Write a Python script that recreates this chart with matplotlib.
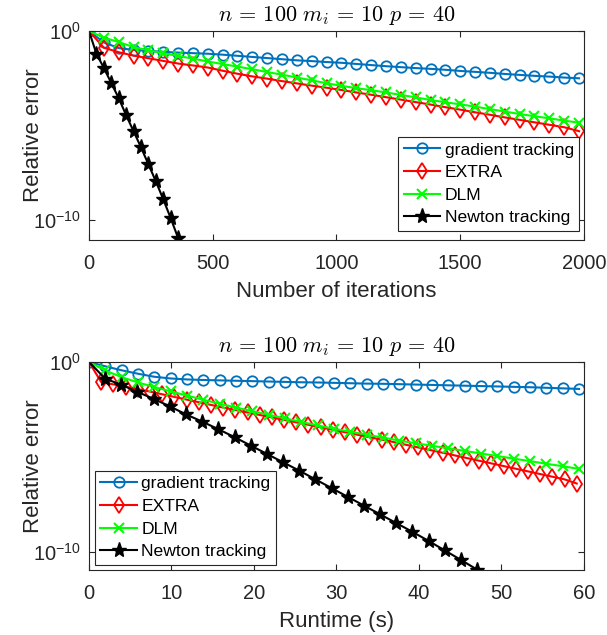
import numpy as np
import matplotlib
matplotlib.use("Agg")

import matplotlib.pyplot as plt
from matplotlib.ticker import NullLocator


# =====================================================
# DATA  (log10 of relative error)
# =====================================================

# top panel: markers every 60 iterations (Newton every 30)
iters_gt = np.arange(0, 1981, 60)
iters_extra = np.arange(0, 1981, 60)
iters_dlm = np.arange(0, 1981, 60)
iters_newton = np.arange(0, 361, 30)

err_gt_iter = [
    0, -0.6, -0.9, -1.0, -1.05, -1.1, -1.14, -1.17, -1.2,
    -1.25, -1.31, -1.37, -1.43, -1.49, -1.55, -1.59, -1.64, -1.68,
    -1.74, -1.8, -1.86, -1.91, -1.96, -2.0, -2.05, -2.11, -2.16,
    -2.21, -2.27, -2.32, -2.37, -2.41, -2.46, -2.5
]

err_extra_iter = [
    0, -0.88, -1.12, -1.3, -1.44, -1.58, -1.72, -1.82, -1.93,
    -2.1, -2.26, -2.4, -2.52, -2.65, -2.77, -2.89, -3.0, -3.12,
    -3.25, -3.37, -3.5, -3.63, -3.76, -3.89, -4.03, -4.16, -4.3,
    -4.43, -4.57, -4.7, -4.83, -4.96, -5.09, -5.3
]

err_dlm_iter = [
    0, -0.35, -0.58, -0.85, -1.02, -1.17, -1.32, -1.46, -1.61,
    -1.75, -1.88, -2.02, -2.17, -2.31, -2.46, -2.61, -2.76, -2.9,
    -3.02, -3.13, -3.25, -3.38, -3.51, -3.65, -3.77, -3.88, -4.0,
    -4.13, -4.26, -4.39, -4.51, -4.62, -4.74, -4.85
]

err_newton_iter = [
    0, -1.2, -1.95, -2.75, -3.55, -4.45, -5.3, -6.15, -7.05,
    -7.95, -8.9, -9.9, -10.95
]

# bottom panel: runtime in seconds at the marker positions
time_gt = np.arange(31) * 1.98
time_extra = np.arange(41) * 1.478
time_dlm = np.arange(31) * 1.98
time_newton = np.arange(25) * 1.96

err_gt_time = [
    0, -0.23, -0.44, -0.62, -0.78, -0.87, -0.92, -0.95, -0.97, -0.99,
    -1.01, -1.03, -1.05, -1.07, -1.08, -1.1, -1.12, -1.14, -1.15, -1.17,
    -1.19, -1.21, -1.23, -1.25, -1.27, -1.29, -1.31, -1.33, -1.36, -1.39,
    -1.42
]

err_extra_time = [
    0, -1.06, -1.18, -1.3, -1.43, -1.56, -1.7, -1.84, -1.98, -2.12,
    -2.26, -2.4, -2.53, -2.66, -2.79, -2.92, -3.05, -3.18, -3.31, -3.44,
    -3.57, -3.7, -3.83, -3.96, -4.09, -4.22, -4.36, -4.5, -4.64, -4.78,
    -4.92, -5.06, -5.2, -5.34, -5.48, -5.62, -5.76, -5.9, -6.04, -6.18,
    -6.4
]

err_dlm_time = [
    0, -0.45, -0.8, -1.08, -1.32, -1.55, -1.77, -1.99, -2.2, -2.4,
    -2.59, -2.78, -2.97, -3.16, -3.34, -3.52, -3.67, -3.83, -3.98, -4.14,
    -4.28, -4.41, -4.55, -4.68, -4.82, -4.95, -5.09, -5.22, -5.36, -5.49,
    -5.63
]

err_newton_time = [
    0, -0.88, -1.2, -1.58, -1.94, -2.34, -2.76, -3.14, -3.54, -3.96,
    -4.4, -4.84, -5.28, -5.72, -6.18, -6.64, -7.1, -7.56, -8.02, -8.48,
    -8.94, -9.42, -9.92, -10.42, -10.93
]

labels = ["gradient tracking", "EXTRA", "DLM", "Newton tracking"]

title_text = r"$n\,=\,100\ m_i\,=\,10\ p\,=\,40$"


# =====================================================
# STYLE
# =====================================================

plt.rcParams["font.family"] = ["Liberation Sans", "DejaVu Sans"]
plt.rcParams["mathtext.fontset"] = "custom"
plt.rcParams["mathtext.rm"] = "Liberation Sans"
plt.rcParams["mathtext.it"] = "Liberation Sans:italic"

AX_COLOR = "#262626"

styles = [
    dict(color="#0072BD", marker="o", mfc="none", ms=7.5, mew=1.3),
    dict(color="#FF0000", marker="d", mfc="none", ms=8.5, mew=1.3),
    dict(color="#00FF00", marker="x", ms=7.5, mew=1.5),
    dict(color="black", marker="*", ms=11, mew=1.0),
]


def draw_panel(ax, xs, ys, xlim, ylow, xticks, xlabel, legend_loc, anchor):

    for i, (x, y) in enumerate(zip(xs, ys)):
        ax.plot(
            x,
            10.0 ** np.asarray(y),
            lw=1.5,
            markevery=slice(0 if i == 0 else 1, None),
            label=labels[i],
            **styles[i]
        )

    ax.set_yscale("log")
    ax.set_xlim(*xlim)
    ax.set_ylim(10.0 ** ylow, 1.0)

    ax.set_xticks(xticks)
    ax.set_xticklabels([str(t) for t in xticks])
    ax.set_yticks([1e-10, 1.0])
    ax.set_yticklabels([r"$\mathregular{10^{-10}}$", r"$\mathregular{10^{0}}$"])
    ax.yaxis.set_minor_locator(NullLocator())

    ax.tick_params(
        direction="in",
        top=True,
        right=True,
        length=4,
        width=0.8,
        labelsize=14.5,
        colors=AX_COLOR
    )
    ax.tick_params(axis="x", pad=10)
    ax.tick_params(axis="y", pad=6)
    for sp in ax.spines.values():
        sp.set_color(AX_COLOR)
        sp.set_linewidth(0.8)

    ax.set_xlabel(xlabel, fontsize=16, color=AX_COLOR)
    ax.set_ylabel("Relative error", fontsize=16, color=AX_COLOR)
    ax.xaxis.set_label_coords(0.5, -0.195)
    ax.yaxis.set_label_coords(-0.09, 0.5)
    ax.set_title(title_text, fontsize=16, math_fontfamily="cm", pad=7)

    leg = ax.legend(
        loc=legend_loc,
        bbox_to_anchor=anchor,
        borderaxespad=0,
        fontsize=12.6,
        fancybox=False,
        framealpha=1,
        edgecolor=AX_COLOR,
        handlelength=2.1,
        handletextpad=0.25,
        labelspacing=0.42,
        borderpad=0.3
    )
    leg.get_frame().set_linewidth(0.8)


# =====================================================
# FIGURE
# =====================================================

fig = plt.figure(figsize=(6.07, 6.35), dpi=100)

ax_top = fig.add_axes([0.1466, 0.622, 0.8155, 0.3291])
ax_bot = fig.add_axes([0.1466, 0.1024, 0.8155, 0.3276])

draw_panel(
    ax_top,
    [iters_gt, iters_extra, iters_dlm, iters_newton],
    [err_gt_iter, err_extra_iter, err_dlm_iter, err_newton_iter],
    (0, 2000),
    -11.06,
    [0, 500, 1000, 1500, 2000],
    "Number of iterations",
    "upper right",
    (0.99, 0.493)
)

draw_panel(
    ax_bot,
    [time_gt, time_extra, time_dlm, time_newton],
    [err_gt_time, err_extra_time, err_dlm_time, err_newton_time],
    (0, 60),
    -10.95,
    [0, 10, 20, 30, 40, 50, 60],
    "Runtime (s)",
    "upper left",
    (0.012, 0.476)
)

fig.savefig("out.png", dpi=100)
plt.close(fig)
